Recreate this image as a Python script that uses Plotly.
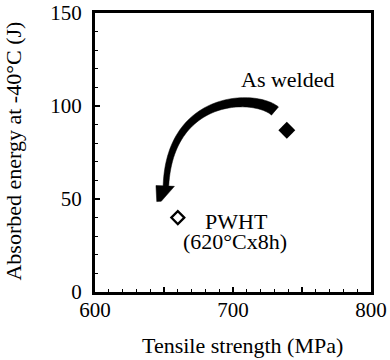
import numpy as np
import plotly.graph_objects as go

# Data
conditions = ["As welded", "PWHT"]
tensile_strength = [739, 660]      # MPa
absorbed_energy = [87, 40]         # J at -40 C
x_ticks = [600, 650, 700, 750, 800]
x_ticktext = ["600", "", "700", "", "800"]
y_ticks = [0, 50, 100, 150]

FONT = "Liberation Serif, Times New Roman, serif"

fig = go.Figure()
fig.add_trace(go.Scatter(
    x=[tensile_strength[0]], y=[absorbed_energy[0]], mode="markers",
    marker=dict(symbol="diamond", size=13, color="black"),
    showlegend=False, hoverinfo="skip"))
fig.add_trace(go.Scatter(
    x=[tensile_strength[1]], y=[absorbed_energy[1]], mode="markers",
    marker=dict(symbol="diamond-open", size=10, color="black", line=dict(width=2.2, color="black")),
    showlegend=False, hoverinfo="skip"))

# Curved arrow (annotation decoration) defined in data units
sx, sy = 1.38, 1.86  # approx px per data unit, used only to keep the stroke uniform
ctrl = np.array([[730.4, 97.3], [715.9, 106.5], [654.3, 106.5], [651.4, 57.0]])
P = ctrl * np.array([sx, -sy])
t = np.linspace(0, 1, 60)[:, None]
B = ((1 - t) ** 3) * P[0] + 3 * ((1 - t) ** 2) * t * P[1] + 3 * (1 - t) * t ** 2 * P[2] + t ** 3 * P[3]
D = 3 * ((1 - t) ** 2) * (P[1] - P[0]) + 6 * (1 - t) * t * (P[2] - P[1]) + 3 * t ** 2 * (P[3] - P[2])
D = D / np.linalg.norm(D, axis=1, keepdims=True)
N = np.stack([-D[:, 1], D[:, 0]], axis=1)
w = (5.4 - 2.6 * t[:, 0])[:, None]
left = B + N * w
right = B - N * w
end, dirv, nrm = B[-1], D[-1], N[-1]
head = [end + nrm * 10, end + dirv * 16 + nrm * 8.5, end + dirv * 15.5 + nrm * 4, end - nrm * 8.5]
poly = np.vstack([left, head, right[::-1]])
poly = poly / np.array([sx, -sy])
path = "M " + " L ".join(f"{px:.3f},{py:.3f}" for px, py in poly) + " Z"
fig.add_shape(type="path", path=path, xref="x", yref="y",
              fillcolor="black", line=dict(color="black", width=0.5))

ann_font = dict(family=FONT, size=22, color="black")
fig.add_annotation(x=739.5, y=114.3, xref="x", yref="y", text="As welded",
                   showarrow=False, font=ann_font, xanchor="center", yanchor="middle")
fig.add_annotation(x=702.5, y=37.9, xref="x", yref="y", text="PWHT",
                   showarrow=False, font=ann_font, xanchor="center", yanchor="middle")
fig.add_annotation(x=701.8, y=27.2, xref="x", yref="y", text="(620°Cx8h)",
                   showarrow=False, font=ann_font, xanchor="center", yanchor="middle")
# Axis titles
fig.add_annotation(x=0.536, y=-0.19, xref="paper", yref="paper", text="Tensile strength (MPa)",
                   showarrow=False, font=ann_font, xanchor="center", yanchor="middle")
fig.add_annotation(x=-0.297, y=0.5036, xref="paper", yref="paper", text="Absorbed energy at -40°C (J)",
                   showarrow=False, font=ann_font, textangle=-90, xanchor="center", yanchor="middle")

axis_common = dict(showline=True, linecolor="black", linewidth=3, mirror=True, automargin=False,
                   showgrid=False, zeroline=False, ticks="inside", ticklen=5, tickwidth=1.5,
                   tickcolor="black", tickfont=dict(family=FONT, size=21, color="black"),
                   minor=dict(ticks="inside", ticklen=3, tickwidth=1, tickcolor="black", dtick=10, showgrid=False))
fig.update_xaxes(range=[600, 800], tickvals=x_ticks, ticktext=x_ticktext, ticklabelstandoff=-3, **axis_common)
fig.update_yaxes(range=[0, 150], tickvals=y_ticks, ticklabelstandoff=6, **axis_common)

fig.update_layout(width=390, height=360, margin=dict(l=95, r=19, t=13, b=68),
                  plot_bgcolor="white", paper_bgcolor="white", showlegend=False)
fig.write_html("out.html", config={"displayModeBar": False},
               post_script="document.body.style.margin='0';")
